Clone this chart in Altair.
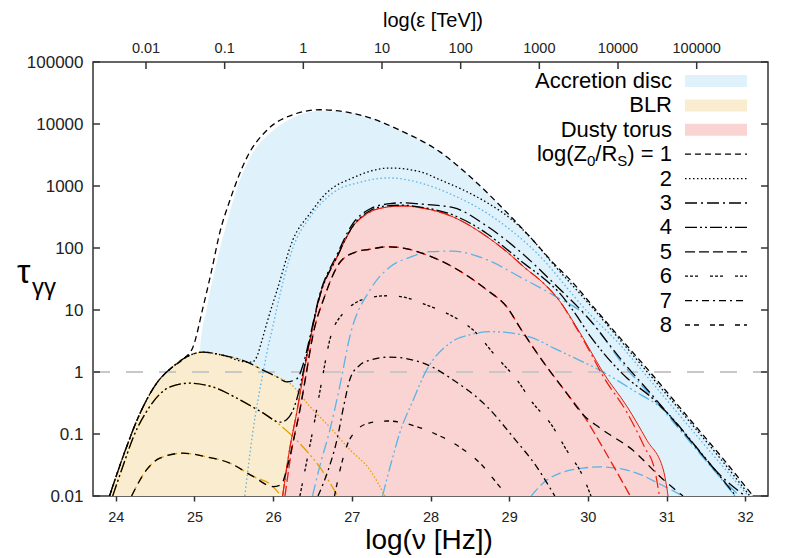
import math
import altair as alt
import pandas as pd

# ---------------- data ----------------
# x values: log10(nu / Hz); y values: log10(tau_gamma-gamma)

# accretion disc (log Z0/RS = 1) -> blue filled region
disc_fill_x = [25.00, 25.03, 25.07, 25.16, 25.28, 25.41, 25.58, 25.74, 25.96, 26.25, 26.59, 26.94, 27.23,
               27.61, 28.12, 28.59, 28.98, 29.30, 29.56, 29.81, 30.07, 30.32, 30.79, 31.30, 31.68, 32.10]
disc_fill_lt = [-2, -0.77, 0.35, 1.05, 1.76, 2.40, 3.10, 3.53, 3.85, 4.10, 4.21, 4.19, 4.10,
                3.90, 3.55, 3.05, 2.56, 2.13, 1.76, 1.44, 1.05, 0.68, 0, -0.77, -1.34, -2]

# BLR (log Z0/RS = 1-3) -> orange filled region
blr_x = [23.92, 24.09, 24.31, 24.52, 24.72, 24.94, 25.11, 25.36, 25.67, 25.87, 26.05, 26.21,
         26.47, 26.72, 26.98, 27.23, 27.42]
blr_lt = [-2, -1.37, -0.66, -0.18, 0.08, 0.27, 0.32, 0.27, 0.16, 0.03, -0.08, -0.18,
          -0.56, -0.89, -1.26, -1.58, -2]

# dusty torus (log Z0/RS = 1-4) -> red filled region
torus_x = [26.12, 26.21, 26.30, 26.39, 26.47, 26.59, 26.81, 27.01, 27.23, 27.45, 27.65, 27.87, 28.29,
           28.72, 28.97, 29.20, 29.43, 29.65, 29.84, 30.03, 30.19, 30.50, 30.75, 30.96, 31.02]
torus_lt = [-2, -1.24, -0.65, 0, 0.52, 1.21, 1.85, 2.34, 2.58, 2.66, 2.68, 2.65, 2.50,
            2.18, 1.94, 1.68, 1.44, 1.13, 0.76, 0.35, 0, -0.56, -1.10, -1.58, -2]
torus_b_x = [26.12, 26.21, 26.30, 26.39, 26.47, 26.59, 26.81, 27.01, 27.23, 27.45, 27.65, 27.87, 28.29,
             28.72, 28.97, 29.20, 29.43, 29.65, 29.84, 30.03, 30.19, 30.50, 30.72, 30.85, 30.91]
torus_b_lt = [-2, -1.24, -0.65, 0, 0.52, 1.21, 1.85, 2.34, 2.58, 2.66, 2.68, 2.65, 2.50,
              2.18, 1.94, 1.68, 1.44, 1.13, 0.74, 0.32, -0.06, -0.66, -1.21, -1.58, -2]
torus5_x = [26.15, 26.25, 26.34, 26.42, 26.50, 26.66, 26.85, 27.06, 27.23, 27.45, 27.65, 27.95, 28.29,
            28.72, 28.97, 29.14, 29.48, 29.73, 29.94, 30.15, 30.34, 30.54]
torus5_lt = [-2, -1.15, -0.61, -0.03, 0.56, 1.24, 1.77, 1.94, 1.98, 2.02, 2.0, 1.89, 1.69,
             1.32, 1.05, 0.71, 0.08, -0.34, -0.69, -1.13, -1.55, -2]

# BLR components for log Z0/RS = 4 and 5
blr4_x = [23.96, 24.09, 24.22, 24.43, 24.69, 24.94, 25.23, 25.58, 25.87, 26.12, 26.38, 26.59, 26.82]
blr4_lt = [-2, -1.52, -1.06, -0.56, -0.24, -0.18, -0.24, -0.45, -0.66, -0.89, -1.21, -1.53, -2]
blr5_x = [24.20, 24.39, 24.56, 24.85, 25.16, 25.45, 25.74, 26.00, 26.10]
blr5_lt = [-2, -1.58, -1.39, -1.31, -1.37, -1.47, -1.68, -1.85, -2]

# accretion-disc components for log Z0/RS = 2, 3, 4, 5
disc2_x = [25.64, 25.74, 25.87, 25.92, 26.00, 26.09, 26.25, 26.47, 26.76, 27.10, 27.48, 27.87, 28.29,
           28.72, 29.35, 29.99, 30.41, 30.79, 31.30, 31.68, 32.04]
disc2_lt = [-2, -0.98, -0.02, 0.31, 0.76, 1.27, 2.0, 2.50, 2.89, 3.06, 3.13, 3.05, 2.85,
            2.56, 1.92, 0.98, 0.44, -0.13, -0.90, -1.47, -2]
disc3_x = [26.50, 26.59, 26.72, 26.85, 26.98, 27.23, 27.48, 27.74, 27.99, 28.28, 28.72, 29.14, 29.56,
           29.99, 30.45, 30.87, 31.30, 31.68, 31.93]
disc3_lt = [-2, -1.53, -0.94, -0.21, 0.60, 1.32, 1.69, 1.85, 1.94, 1.95, 1.81, 1.53, 1.24,
            0.89, 0.12, -0.48, -1.13, -1.69, -2]
disc4_x = [27.39, 27.51, 27.61, 27.78, 27.95, 28.25, 28.50, 28.76, 29.01, 29.30, 29.56, 29.81, 30.15,
           30.57, 31.01, 31.43, 31.87]
disc4_lt = [-2, -1.42, -0.98, -0.45, 0.03, 0.47, 0.60, 0.65, 0.63, 0.55, 0.39, 0.24, 0.03,
            -0.29, -0.66, -1.31, -2]
disc5_x = [29.28, 29.45, 29.65, 29.94, 30.15, 30.41, 30.66, 30.92, 31.21]
disc5_lt = [-2, -1.77, -1.63, -1.55, -1.53, -1.56, -1.65, -1.81, -2]

# total optical depth for log Z0/RS = 1 ... 8
z1_x = [23.92, 24.09, 24.31, 24.52, 24.72, 24.88, 24.98, 25.11, 25.22, 25.32, 25.45, 25.67,
        25.92, 26.25, 26.59, 26.94, 27.23, 27.61, 28.12, 28.59, 28.98, 29.30, 29.56, 29.81, 30.07,
        30.32, 30.79, 31.30, 31.68, 32.10]
z1_lt = [-2, -1.37, -0.66, -0.18, 0.08, 0.23, 0.40, 1.05, 1.65, 2.24, 2.77, 3.47,
         3.90, 4.15, 4.23, 4.19, 4.10, 3.90, 3.55, 3.05, 2.56, 2.13, 1.76, 1.44, 1.05,
         0.68, 0, -0.77, -1.34, -2]
z2_x = [23.92, 24.09, 24.31, 24.52, 24.72, 24.94, 25.11, 25.36, 25.67, 25.73, 25.79, 25.86,
        25.92, 26.05, 26.25, 26.47, 26.68, 27.01, 27.48, 27.87, 28.12, 28.41, 28.72, 29.05, 29.30,
        29.56, 29.81, 30.07, 30.32, 30.79, 31.30, 31.68, 32.06]
z2_lt = [-2, -1.37, -0.66, -0.18, 0.08, 0.27, 0.32, 0.27, 0.16, 0.16, 0.24, 0.52,
         0.79, 1.32, 2.13, 2.56, 2.89, 3.13, 3.29, 3.23, 3.10, 2.94, 2.73, 2.44, 2.13,
         1.74, 1.39, 1.02, 0.65, -0.05, -0.81, -1.39, -2]
z3_x = [23.92, 24.09, 24.31, 24.52, 24.72, 24.94, 25.11, 25.36, 25.67, 25.87, 26.05, 26.17,
        26.30, 26.39, 26.47, 26.59, 26.81, 27.01, 27.23, 27.45, 27.65, 27.87, 28.29, 28.72, 29.14,
        29.56, 29.99, 30.45, 30.87, 31.30, 31.68, 32.00]
z3_lt = [-2, -1.37, -0.66, -0.18, 0.08, 0.27, 0.32, 0.27, 0.16, 0.03, -0.08, -0.16,
         -0.11, 0.16, 0.58, 1.24, 1.89, 2.39, 2.63, 2.71, 2.73, 2.71, 2.65, 2.35, 1.94,
         1.44, 0.89, 0.16, -0.45, -1.10, -1.66, -2]
z4_x = [23.96, 24.09, 24.22, 24.43, 24.69, 24.94, 25.23, 25.58, 25.87, 26.09, 26.17, 26.24, 26.30,
        26.39, 26.47, 26.59, 26.81, 27.01, 27.23, 27.45, 27.65, 27.87, 28.29, 28.72, 28.97, 29.20,
        29.43, 29.65, 29.84, 30.03, 30.19, 30.50, 30.79, 31.01, 31.43, 31.88]
z4_lt = [-2, -1.52, -1.06, -0.56, -0.24, -0.18, -0.24, -0.45, -0.66, -0.81, -0.77, -0.65, -0.44,
         0.05, 0.55, 1.21, 1.85, 2.35, 2.60, 2.68, 2.69, 2.66, 2.53, 2.23, 1.98, 1.74,
         1.52, 1.26, 0.94, 0.58, 0.32, -0.10, -0.39, -0.66, -1.29, -2]
z5_x = [24.20, 24.39, 24.56, 24.85, 25.16, 25.45, 25.74, 26.00, 26.10, 26.17, 26.25, 26.34, 26.42,
        26.50, 26.66, 26.85, 27.06, 27.23, 27.45, 27.65, 27.95, 28.29, 28.72, 28.97, 29.14, 29.48,
        29.73, 29.94, 30.15, 30.57, 30.92, 31.21]
z5_lt = [-2, -1.58, -1.39, -1.31, -1.37, -1.47, -1.68, -1.85, -1.82, -1.58, -1.15, -0.61, -0.03,
         0.56, 1.24, 1.77, 1.94, 1.98, 2.02, 2.0, 1.89, 1.69, 1.32, 1.05, 0.71, 0.08,
         -0.34, -0.69, -0.90, -1.26, -1.69, -2]
z6_x = [26.34, 26.43, 26.53, 26.62, 26.72, 26.89, 27.04, 27.19, 27.45, 27.65, 27.95, 28.25, 28.54,
        28.84, 29.10, 29.30, 29.52, 29.73, 29.94, 30.04]
z6_lt = [-2, -1.42, -0.77, -0.13, 0.52, 0.95, 1.11, 1.19, 1.23, 1.21, 1.08, 0.92, 0.68,
         0.24, -0.13, -0.50, -0.82, -1.26, -1.69, -2]
z7_x = [26.57, 26.70, 26.81, 26.90, 26.98, 27.10, 27.23, 27.48, 27.87, 27.99, 28.29, 28.72, 29.05,
        29.35, 29.58]
z7_lt = [-2, -1.58, -1.10, -0.53, -0.10, 0.11, 0.19, 0.24, 0.16, 0.10, -0.13, -0.56, -1.05,
         -1.53, -2]
z8_x = [26.78, 26.85, 26.94, 27.06, 27.23, 27.45, 27.87, 28.03, 28.37, 28.63, 28.88, 28.98]
z8_lt = [-2, -1.58, -1.18, -0.94, -0.82, -0.79, -0.90, -0.98, -1.21, -1.47, -1.85, -2]

# axes / legend text
nu_ticks = [24, 25, 26, 27, 28, 29, 30, 31, 32]
tau_ticks = [0.01, 0.1, 1, 10, 100, 1000, 10000, 100000]
e_ticks = [0.01, 0.1, 1, 10, 100, 1000, 10000, 100000]
e_labels = ["0.01", "0.1", "1", "10", "100", "1000", "10000", "100000"]
fill_labels = ["Accretion disc", "BLR", "Dusty torus"]
z_labels = ["1", "2", "3", "4", "5", "6", "7", "8"]

# ---------------- styling ----------------
FONT = "Liberation Sans"
BLACK = "#000000"
BLUE = "#56b4e9"
RED = "#e51e10"
ORANGE = "#e69f00"
FILL_DISC = "#dff1fb"
FILL_BLR = "#faedcf"
FILL_TORUS = "#fad4d2"
AXC = "#333333"
DASH = {
    "1": [6, 4],
    "2": [1.5, 2.5],
    "3": [12, 4, 2, 4],
    "4": [12, 3, 2, 3, 2, 3],
    "5": [10, 4],
    "6": [3, 2, 3, 2, 3, 12],
    "7": [7, 4, 2, 4],
    "8": [5, 4, 5, 11],
}
W, H = 675, 434
TICK = 7
LOG_NU_1TEV = 26.3835  # log10(nu/Hz) of a 1 TeV photon
XS = alt.Scale(domain=[23.71, 32.29], nice=False, zero=False)
YS = alt.Scale(type="log", domain=[0.01, 100000], nice=False)

AX_X = alt.Axis(orient="bottom", values=nu_ticks, format="d", title=None, grid=False, domain=False,
                tickSize=5, tickColor=AXC, tickWidth=1.5, labelFont=FONT, labelFontSize=14.5,
                labelColor="#222", labelPadding=9)
AX_Y = alt.Axis(orient="left", values=tau_ticks, format="~g", title=None, grid=False, domain=False,
                tickSize=0, labelPadding=10, labelFont=FONT, labelFontSize=17, labelColor="#222")
X = alt.X("nu:Q", scale=XS, axis=AX_X)
Y = alt.Y("tau:Q", scale=YS, axis=AX_Y)
Y_FILL = alt.Y("tau:Q", scale=YS, axis=AX_Y, stack=None)


def frame(xs, lts):
    return pd.DataFrame({"nu": xs, "tau": [10 ** v for v in lts]})


def line(xs, lts, color, dash=None, width=1.3):
    kw = dict(color=color, strokeWidth=width, interpolate="monotone", clip=True)
    if dash:
        kw["strokeDash"] = dash
    return alt.Chart(frame(xs, lts)).mark_line(**kw).encode(x=X, y=Y)


def fill(xs, lts, color):
    return alt.Chart(frame(xs, lts)).mark_area(
        color=color, opacity=1, interpolate="monotone", clip=True).encode(
        x=X, y=Y_FILL, y2=alt.value(H))


one = pd.DataFrame({"a": [0]})

# frame that fixes the page layout (invisible)
layout_box = alt.Chart(one).mark_rect(opacity=0).encode(
    x=alt.value(-85), x2=alt.value(W + 14), y=alt.value(-54), y2=alt.value(H + 44))

# inward ticks on left / right / top
ytick_df = pd.DataFrame({"tau": tau_ticks})
left_ticks = alt.Chart(ytick_df).mark_rule(color=AXC, strokeWidth=1.5).encode(
    y=Y, x=alt.value(0), x2=alt.value(TICK))
right_ticks = alt.Chart(ytick_df).mark_rule(color=AXC, strokeWidth=1.5).encode(
    y=Y, x=alt.value(W - TICK), x2=alt.value(W))
etick_df = pd.DataFrame({"nu": [math.log10(e) + LOG_NU_1TEV for e in e_ticks], "label": e_labels})
top_ticks = alt.Chart(etick_df).mark_rule(color=AXC, strokeWidth=1.5).encode(
    x=X, y=alt.value(0), y2=alt.value(TICK))
top_labels = alt.Chart(etick_df).mark_text(font=FONT, fontSize=14.5, color="#222",
                                           baseline="alphabetic").encode(
    x=X, y=alt.value(-9), text="label:N")

unity = alt.Chart(pd.DataFrame({"tau": [1]})).mark_rule(
    color="#c8c8c8", strokeWidth=2, strokeDash=[17, 16]).encode(
    y=Y, x=alt.value(0), x2=alt.value(W))

layers = [
    layout_box,
    fill(disc_fill_x, disc_fill_lt, FILL_DISC),
    fill(blr_x, blr_lt, FILL_BLR),
    fill(torus_x, torus_lt, FILL_TORUS),
    unity,
    # BLR components
    line(blr_x, blr_lt, ORANGE, [1.5, 2]),
    line(blr4_x, blr4_lt, ORANGE, DASH["4"]),
    line(blr5_x, blr5_lt, ORANGE, DASH["5"]),
    # accretion disc components
    line(disc2_x, disc2_lt, BLUE, DASH["2"]),
    line(disc3_x, disc3_lt, BLUE, DASH["3"]),
    line(disc4_x, disc4_lt, BLUE, DASH["4"]),
    line(disc5_x, disc5_lt, BLUE, DASH["5"]),
    # torus components
    line(torus_x, torus_lt, RED, None, 1.0),
    line(torus_b_x, torus_b_lt, RED, DASH["3"], 1.2),
    line(torus5_x, torus5_lt, RED, DASH["5"], 1.3),
    # totals
    line(z1_x, z1_lt, BLACK, DASH["1"]),
    line(z2_x, z2_lt, BLACK, DASH["2"]),
    line(z3_x, z3_lt, BLACK, DASH["3"]),
    line(z4_x, z4_lt, BLACK, DASH["4"]),
    line(z5_x, z5_lt, BLACK, [8, 6]),
    line(z6_x, z6_lt, BLACK, DASH["6"]),
    line(z7_x, z7_lt, BLACK, DASH["7"]),
    line(z8_x, z8_lt, BLACK, DASH["8"]),
    left_ticks, right_ticks, top_ticks, top_labels,
]


def txt(s, x, y, size, align="center"):
    return alt.Chart(one).mark_text(text=s, font=FONT, fontSize=size, align=align,
                                    baseline="alphabetic", color="#000").encode(
        x=alt.value(x), y=alt.value(y))


# axis titles
layers.append(txt("log(ν [Hz])", 336, 487, 28))
layers.append(txt("log(ε [TeV])", 340, -35, 20))
layers.append(txt("τ", -76, 221, 34, align="left"))
layers.append(txt("γγ", -61, 233, 24, align="left"))

# legend
TX = 579
SW0, SW1 = 592, 654
LFS = 22
fill_cols = [FILL_DISC, FILL_BLR, FILL_TORUS]
for i, (lab, col) in enumerate(zip(fill_labels, fill_cols)):
    base = 26 + 24.4 * i
    layers.append(txt(lab, TX, base, LFS, align="right"))
    layers.append(alt.Chart(one).mark_rect(color=col).encode(
        x=alt.value(SW0), x2=alt.value(SW1), y=alt.value(base - 13), y2=alt.value(base - 1)))

for j, lab in enumerate(z_labels):
    base = 26 + 24.4 * (j + 3)
    mid = base - 7
    if j == 0:
        w1 = 2.029 * LFS
        ws = 0.667 * 15
        wr = 1.0 * LFS
        w0 = 0.556 * 15
        layers.append(txt(") = 1", TX, base, LFS, align="right"))
        layers.append(txt("S", TX - w1, base + 5, 15, align="right"))
        layers.append(txt("/R", TX - w1 - ws, base, LFS, align="right"))
        layers.append(txt("0", TX - w1 - ws - wr, base + 5, 15, align="right"))
        layers.append(txt("log(Z", TX - w1 - ws - wr - w0, base, LFS, align="right"))
    else:
        layers.append(txt(lab, TX, base, LFS, align="right"))
    layers.append(alt.Chart(one).mark_rule(color=BLACK, strokeWidth=1.3, strokeDash=DASH[lab]).encode(
        x=alt.value(SW0), x2=alt.value(SW1), y=alt.value(mid)))

chart = alt.layer(*layers).properties(
    width=W, height=H, padding=0,
).configure_view(stroke=AXC, strokeWidth=1.5)

chart.save("out.html", embed_options={"renderer": "svg", "actions": False})
